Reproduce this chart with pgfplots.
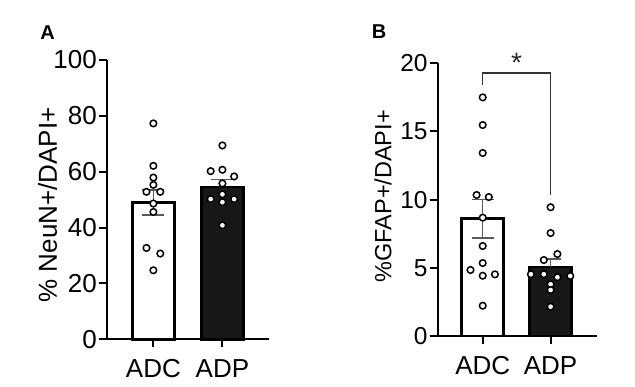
\documentclass[border=0pt]{standalone}
\usepackage{fontspec}
\setmainfont{Liberation Sans}
\usepackage{pgfplots}
\pgfplotsset{compat=1.18}
\definecolor{errgray}{gray}{0.35}
\definecolor{barblack}{gray}{0.09}
\pgfplotsset{
  myaxis/.style={
    scale only axis,
    axis x line=bottom, axis y line=left,
    axis line style={-, line width=2pt, black},
    tick align=outside,
    major tick length=8pt,
    tick style={line width=2pt, black},
    xtick={0,1}, xticklabels={ADC,ADP},
    xticklabel style={font=\fontsize{26}{26}\selectfont, inner sep=0pt, yshift=-12pt},
    yticklabel style={inner sep=0pt, xshift=-2pt},
    /pgf/number format/assume math mode=true,
    clip=false,
  },
  dots/.style={only marks, mark=*, mark size=3.3pt, mark options={fill=white, draw=black, line width=1.5pt}},
  eb/.style={errgray, line width=1.5pt, mark=none},
}
\begin{document}
\begin{tikzpicture}
\path[use as bounding box] (0,0) rectangle (635pt,387pt);
% Panel A
\begin{axis}[myaxis,
  at={(107pt,47.7pt)}, anchor=south west,
  width=162pt, height=279.3pt,
  xmin=-0.672, xmax=1.675,
  ymin=0, ymax=100, ytick={0,20,40,60,80,100},
  yticklabel style={font=\fontsize{26}{26}\selectfont},
  ylabel={\% NeuN+/DAPI+},
  ylabel style={font=\fontsize{26}{26}\selectfont, at={(axis description cs:-0.367,0.481)}, anchor=center},
]
\addplot[ybar, bar width=42pt, bar shift=0pt, fill=white, draw=black, line width=2.5pt]
  coordinates {(0,49.0)};
\addplot[ybar, bar width=42pt, bar shift=0pt, fill=barblack, draw=black, line width=2.5pt]
  coordinates {(1,54.5)};
% error bars (mean +- SEM)
\addplot[eb] coordinates {(0,44.5) (0,53.5)};
\addplot[eb] coordinates {(-0.16,53.5) (0.16,53.5)};
\addplot[eb] coordinates {(-0.16,44.5) (0.16,44.5)};
\addplot[eb] coordinates {(1,54.5) (1,57.2)};
\addplot[eb] coordinates {(0.84,57.2) (1.16,57.2)};
\addplot[dots] coordinates {
  (0,77.3) (0,62.1) (0,57.9) (0,55.3) (-0.1,52.8) (0.1,52.8)
  (0,48.6) (0,45.6) (-0.1,32.7) (0.1,30.7) (0,24.7)};
\addplot[dots] coordinates {
  (1,69.4) (0.83,60.2) (1,60.7) (1.17,58.3) (1,55.8) (1,51.9)
  (0.83,50.2) (1,49.1) (1.17,50.2) (1,40.8)};
\end{axis}
% Panel B
\begin{axis}[myaxis,
  at={(437.7pt,51pt)}, anchor=south west,
  width=159pt, height=272.7pt,
  xmin=-0.663, xmax=1.679,
  ymin=0, ymax=20, ytick={0,5,10,15,20},
  yticklabel style={font=\fontsize{24.5}{24.5}\selectfont},
  ylabel={\%GFAP+/DAPI+},
  ylabel style={font=\fontsize{23.5}{23.5}\selectfont, at={(axis description cs:-0.344,0.512)}, anchor=center},
]
\addplot[ybar, bar width=42pt, bar shift=0pt, fill=white, draw=black, line width=2.5pt]
  coordinates {(0,8.6)};
\addplot[ybar, bar width=42pt, bar shift=0pt, fill=barblack, draw=black, line width=2.5pt]
  coordinates {(1,5.05)};
\addplot[eb] coordinates {(0,7.18) (0,10.02)};
\addplot[eb] coordinates {(-0.16,10.02) (0.16,10.02)};
\addplot[eb] coordinates {(-0.16,7.18) (0.16,7.18)};
\addplot[eb] coordinates {(1,5.05) (1,5.65)};
\addplot[eb] coordinates {(0.84,5.65) (1.16,5.65)};
\addplot[dots] coordinates {
  (0,17.5) (0,15.47) (0,13.42) (-0.09,10.34) (0.09,10.19) (0,8.68)
  (0,6.60) (0,5.35) (-0.18,4.84) (0,4.42) (0.18,4.52) (0,2.22)};
\addplot[dots] coordinates {
  (1,9.44) (1,7.55) (1.1,6.01) (0.9,5.57) (0.71,4.53) (0.9,4.53)
  (1.1,4.31) (1.29,4.40) (1,3.79) (1,3.37) (1,2.15)};
\addplot[black!80, line width=1.5pt, mark=none] coordinates {(0,18.41) (0,19.27) (1,19.27) (1,10.34)};
\node[anchor=base, font=\fontsize{28}{28}\selectfont, text=black!85] at (axis cs:0.5,19.3) {*};
\end{axis}
\node[anchor=base, font=\fontsize{20}{20}\selectfont\bfseries] at (47.5pt,347pt) {A};
\node[anchor=base, font=\fontsize{20}{20}\selectfont\bfseries] at (379pt,348pt) {B};
\end{tikzpicture}
\end{document}
